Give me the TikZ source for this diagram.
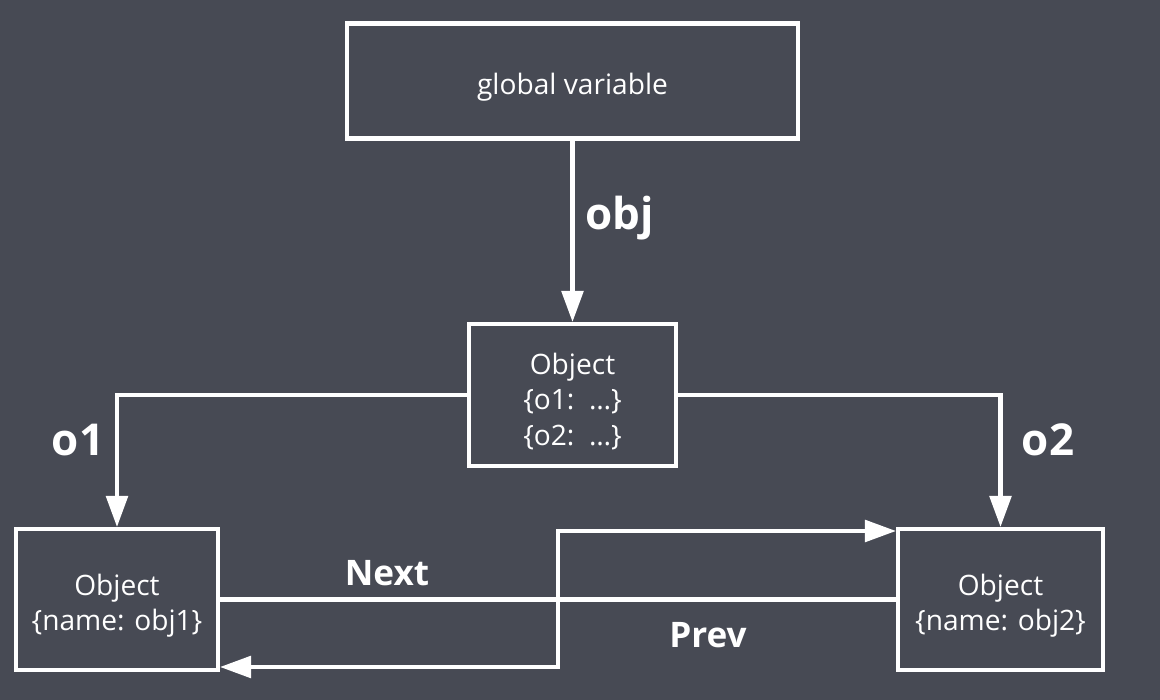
\documentclass[tikz,border=0pt]{standalone}
\usepackage{fontspec}
\setmainfont{Open Sans}
\usetikzlibrary{arrows.meta}
\definecolor{slatebg}{RGB}{71,74,84}
\newcommand{\lowstrut}{\rule{0pt}{19.5pt}}
\begin{document}
\begin{tikzpicture}[
    objbox/.style={draw=white, line width=2.3pt, text=white, align=center, font=\fontsize{16}{20}\selectfont, minimum width=#1, inner sep=0pt},
    arrow/.style={-{Triangle[width=0.43cm,length=0.62cm]}, draw=white, line width=2.3pt},
    link/.style={text=white, font=\bfseries\fontsize{#1}{24}\selectfont},
    link/.default=20
]
    % Background
    \fill[slatebg] (0,0) rectangle (23.2,14);
    \useasboundingbox (0,0) rectangle (23.2,14);

    % Boxes
    \node[objbox=9.02cm, minimum height=2.3cm] (gv) at (11.45,12.38) {\lowstrut global variable};
    \node[objbox=4.14cm, minimum height=2.84cm] (root) at (11.45,6.1) {\lowstrut Object\\\{o1:\ \ …\}\\\{o2:\ \ …\}};
    \node[objbox=4.04cm, minimum height=2.82cm] (obj1) at (2.34,2.01) {\lowstrut Object\\\{name: obj1\}};
    \node[objbox=4.1cm, minimum height=2.82cm] (obj2) at (20.01,2.01) {\lowstrut Object\\\{name: obj2\}};

    % Turning points of Next and Prev
    \coordinate (nx) at (11.16,3.38);
    \coordinate (pv) at (11.16,0.66);

    % Arrows
    \draw[arrow] (gv) -- (root);
    \draw[arrow] (root.west) -| (obj1.north);
    \draw[arrow] (root.east) -| (obj2.north);
    \draw[arrow] (obj1.east) -| (nx) -- (nx -| obj2.west);
    \draw[arrow] (obj2.west) -| (pv) -- (pv -| obj1.east);

    % Labels
    \node[link=25] (lobj) at (12.4,9.64) {obj};
    \node[link=25] (lo1) at (1.56,5.2) {o1};
    \node[link=25] (lo2) at (20.96,5.2) {o2};
    \node[link] (lnext) at (7.74,2.54) {Next};
    \node[link] (lprev) at (14.16,1.3) {Prev};

\end{tikzpicture}
\end{document}
